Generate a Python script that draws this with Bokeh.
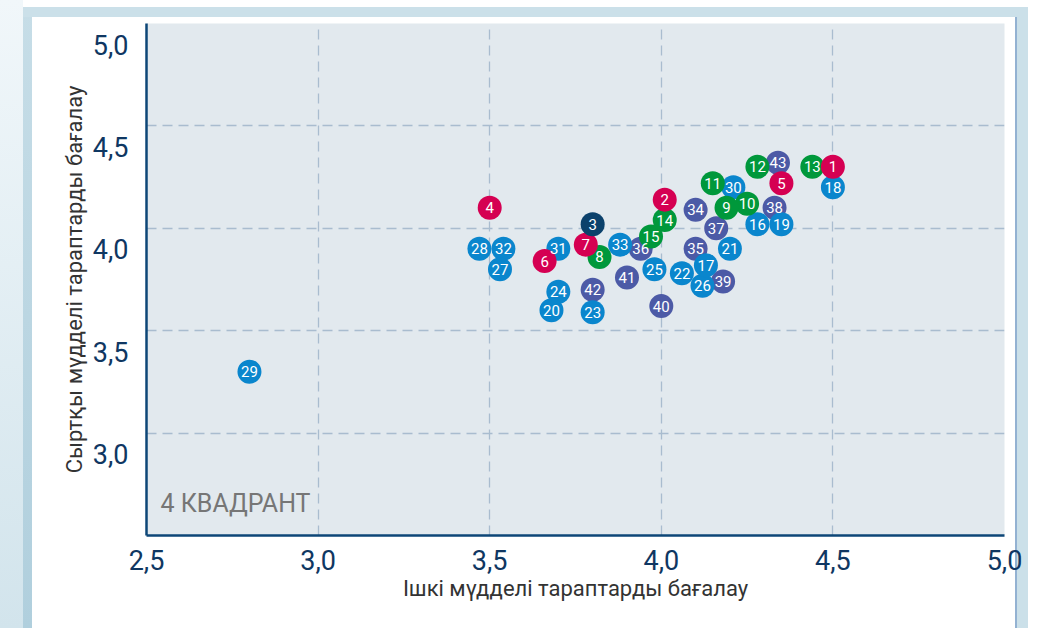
from bokeh.plotting import figure
from bokeh.models import (Range1d, FixedTicker, LinearAxis, Label, ColumnDataSource,
                          CustomJSTickFormatter)
from bokeh.transform import factor_cmap
from bokeh.core.properties import value
from bokeh.embed import file_html
from bokeh.resources import INLINE

# ---- data ----
ids = list(range(1, 44))
internal = [4.50, 4.01, 3.80, 3.50, 4.35, 3.66, 3.78, 3.82, 4.19, 4.25,
            4.15, 4.28, 4.44, 4.01, 3.97, 4.28, 4.13, 4.50, 4.35, 3.68,
            4.20, 4.06, 3.80, 3.70, 3.98, 4.12, 3.53, 3.47, 2.80, 4.21,
            3.70, 3.54, 3.88, 4.10, 4.10, 3.94, 4.16, 4.33, 4.18, 4.00,
            3.90, 3.80, 4.34]
external = [4.30, 4.14, 4.02, 4.10, 4.22, 3.84, 3.92, 3.86, 4.10, 4.12,
            4.22, 4.30, 4.30, 4.04, 3.96, 4.02, 3.82, 4.20, 4.02, 3.60,
            3.90, 3.78, 3.59, 3.69, 3.80, 3.72, 3.80, 3.90, 3.30, 4.20,
            3.90, 3.90, 3.92, 4.09, 3.90, 3.90, 4.00, 4.10, 3.74, 3.62,
            3.76, 3.70, 4.32]
groups = (["red", "red", "navy", "red", "red", "red", "red"]
          + ["green"] * 8 + ["blue"] * 18 + ["purple"] * 10)
group_names = ["red", "navy", "green", "blue", "purple"]
group_colors = ["#d50052", "#0b416b", "#00983b", "#0a86cd", "#4c5aa6"]
x_ticks = [2.5, 3.0, 3.5, 4.0, 4.5, 5.0]
y_ticks = [3.0, 3.5, 4.0, 4.5, 5.0]
grid_ticks = [3.0, 3.5, 4.0, 4.5, 5.0]

# draw in reverse order (last ids underneath)
order = list(range(len(ids)))[::-1]
src = ColumnDataSource(dict(
    x=[internal[i] for i in order],
    y=[external[i] for i in order],
    label=[str(ids[i]) for i in order],
    group=[groups[i] for i in order],
))

FONT = "Roboto"
TICK_COLOR = "#0f3762"
AXIS_COLOR = "#0d4677"

band = "#cbe0e9"
frame_css = ", ".join([
    "linear-gradient(#93b2d2, #93b2d2) 1015px 17px / 2px calc(100% - 17px) no-repeat",
    f"linear-gradient({band}, {band}) 23px 7px / 1005px 10px no-repeat",
    "linear-gradient(#c6dde7, #b0cfdd) 23px 7px / 9px calc(100% - 7px) no-repeat",
    f"linear-gradient({band}, {band}) 1017px 7px / 11px calc(100% - 7px) no-repeat",
    "linear-gradient(#f1f7fa, #d2e4ec) 0px 0px / 23px 100% no-repeat",
    "white",
])

p = figure(width=1037, height=628, x_range=Range1d(2.5, 5.0), y_range=Range1d(2.5, 5.0),
           output_backend="svg", toolbar_location=None, y_axis_location=None,
           min_border_left=146, min_border_right=33, min_border_top=23, min_border_bottom=93,
           background_fill_color="#e2e9ee", border_fill_color=None, outline_line_color=None,
           styles={"background": frame_css})

# shifted range so that y tick labels sit below their grid lines as in the original
shift = 21 / 204.8
p.extra_y_ranges = {"ylab": Range1d(2.5 + shift, 5.0 + shift)}

fmt = CustomJSTickFormatter(code="return tick.toFixed(1).replace('.', ',');")

yax = LinearAxis(y_range_name="ylab", ticker=FixedTicker(ticks=y_ticks), formatter=fmt)
p.add_layout(yax, "left")

for ax in (yax, p.xaxis[0]):
    ax.axis_line_color = AXIS_COLOR
    ax.axis_line_width = 2.5
    ax.major_tick_line_color = None
    ax.minor_tick_line_color = None
    ax.major_label_text_font = FONT
    ax.major_label_text_font_size = "27px"
    ax.major_label_text_color = TICK_COLOR
    ax.axis_label_text_font = FONT
    ax.axis_label_text_font_size = "22px"
    ax.axis_label_text_font_style = "normal"
    ax.axis_label_text_color = "#333333"

p.xaxis.ticker = FixedTicker(ticks=x_ticks)
p.xaxis.formatter = fmt
p.xaxis.major_label_standoff = 8
p.xaxis.axis_label = "Ішкі мүдделі тараптарды бағалау"
p.xaxis.axis_label_standoff = 3
yax.major_label_standoff = 12
yax.axis_label = "Сыртқы мүдделі тараптарды бағалау"
yax.axis_label_standoff = 3

p.xgrid.ticker = FixedTicker(ticks=grid_ticks)
p.ygrid.ticker = FixedTicker(ticks=grid_ticks)
for g in (p.xgrid, p.ygrid):
    g.grid_line_color = "#a9bccf"
    g.grid_line_width = 1.3
    g.grid_line_dash = "10 6"

p.add_layout(Label(x=2.5, y=2.5, text="4 КВАДРАНТ", x_offset=14, y_offset=32,
                   text_align="left", text_baseline="alphabetic", text_font=FONT,
                   text_font_size="25px", text_color="#767676"))

p.scatter("x", "y", source=src, size=24, line_color=None,
          fill_color=factor_cmap("group", group_colors, group_names))
p.text("x", "y", text="label", source=src, text_align="center", text_baseline="middle",
       text_color="white", text_font=value(FONT), text_font_size="15px")

open("out.html", "w").write(file_html(p, INLINE))
